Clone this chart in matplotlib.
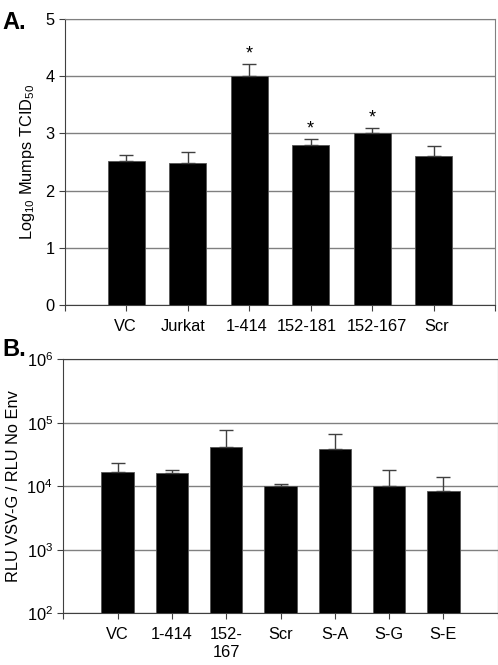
import matplotlib
matplotlib.use("Agg")
import matplotlib.pyplot as plt
import matplotlib.transforms as mtransforms

plt.rcParams['font.family'] = ['Liberation Sans', 'DejaVu Sans']
plt.rcParams['mathtext.fontset'] = 'custom'
plt.rcParams['mathtext.rm'] = 'Liberation Sans'
plt.rcParams['mathtext.it'] = 'Liberation Sans'

# Panel A data
a_labels = ["VC", "Jurkat", "1-414", "152-181", "152-167", "Scr"]
a_values = [2.52, 2.49, 4.00, 2.80, 3.00, 2.61]
a_errors = [0.10, 0.18, 0.21, 0.11, 0.10, 0.17]
a_star = [False, False, True, True, True, False]

# Panel B data
b_labels = ["VC", "1-414", "152-\n167", "Scr", "S-A", "S-G", "S-E"]
b_values = [1.7e4, 1.6e4, 4.2e4, 1.01e4, 3.8e4, 1.0e4, 8.3e3]
b_upper = [2.3e4, 1.78e4, 7.7e4, 1.07e4, 6.7e4, 1.8e4, 1.4e4]

fig = plt.figure(figsize=(4.98, 6.65), dpi=100)
ax1 = fig.add_axes([65 / 498, 1 - 305 / 665, 430 / 498, 286 / 665])
ax2 = fig.add_axes([63.3 / 498, 1 - 613.3 / 665, 434.4 / 498, 254 / 665])

err_kw = dict(ecolor='#404040', elinewidth=1.0, capsize=4.7, capthick=1.0)
fs = 11.8

# ---- Panel A
xa = list(range(1, len(a_labels) + 1))
ax1.bar(xa, a_values, width=0.6, color='black', edgecolor='#555555',
        linewidth=0.6, yerr=[[0] * len(a_values), a_errors], error_kw=err_kw,
        zorder=3)
for x, v, e, s in zip(xa, a_values, a_errors, a_star):
    if s:
        ax1.annotate("*", (x, v + e), xytext=(0, 1), textcoords='offset points',
                     ha='center', va='bottom', fontsize=13)
ax1.set_xlim(0, len(a_labels) + 1)
ax1.set_ylim(0, 5)
ax1.set_yticks(range(0, 6))
ax1.set_xticks(range(0, len(a_labels) + 2))
ax1.set_xticklabels([""] + a_labels + [""])
ax1.yaxis.grid(True, color='#808080', linewidth=1.0, zorder=0)
ax1.set_axisbelow(True)
ax1.set_ylabel(r"Log$_{\mathregular{10}}$ Mumps TCID$_{\mathregular{50}}$",
               fontsize=fs, labelpad=6)
for sp in ['top', 'right']:
    ax1.spines[sp].set_color('#808080')
ax1.spines['left'].set_color('#404040')
ax1.spines['bottom'].set_color('#404040')

# ---- Panel B
xb = list(range(1, len(b_labels) + 1))
b_err = [u - v for u, v in zip(b_upper, b_values)]
ax2.bar(xb, b_values, width=0.6, color='black', edgecolor='#555555',
        linewidth=0.6, yerr=[[0] * len(b_values), b_err], error_kw=err_kw,
        zorder=3, bottom=0)
ax2.set_yscale('log')
ax2.set_ylim(1e2, 1e6)
ax2.set_yticks([1e2, 1e3, 1e4, 1e5, 1e6])
ax2.set_yticklabels([r"10$^{\mathregular{%d}}$" % p for p in range(2, 7)])
ax2.minorticks_off()
ax2.set_xlim(0, len(b_labels) + 1)
ax2.set_xticks(range(0, len(b_labels) + 2))
ax2.set_xticklabels([""] + b_labels + [""])
ax2.yaxis.grid(True, color='#808080', linewidth=1.0, zorder=0)
ax2.set_axisbelow(True)
ax2.set_ylabel("RLU VSV-G / RLU No Env", fontsize=fs, labelpad=4)
for sp in ['top', 'right', 'left', 'bottom']:
    ax2.spines[sp].set_color('#404040')

for ax in (ax1, ax2):
    ax.tick_params(axis='both', labelsize=fs, length=4, width=0.8,
                   color='#404040', direction='out')
    ax.tick_params(axis='x', pad=6)

# spread the crowded panel A labels a little, like the original
shifts = [0, -1.5, -5, -3, -4, 5, 3, 0]
for lab, dx in zip(ax1.get_xticklabels(), shifts):
    lab.set_transform(lab.get_transform() +
                      mtransforms.ScaledTranslation(dx / 100, 0, fig.dpi_scale_trans))

fig.text(0.004, 0.966, "A.", fontsize=17, fontweight='bold', ha='left', va='center')
fig.text(0.004, 0.474, "B.", fontsize=17, fontweight='bold', ha='left', va='center')

fig.savefig("out.png", dpi=100)
